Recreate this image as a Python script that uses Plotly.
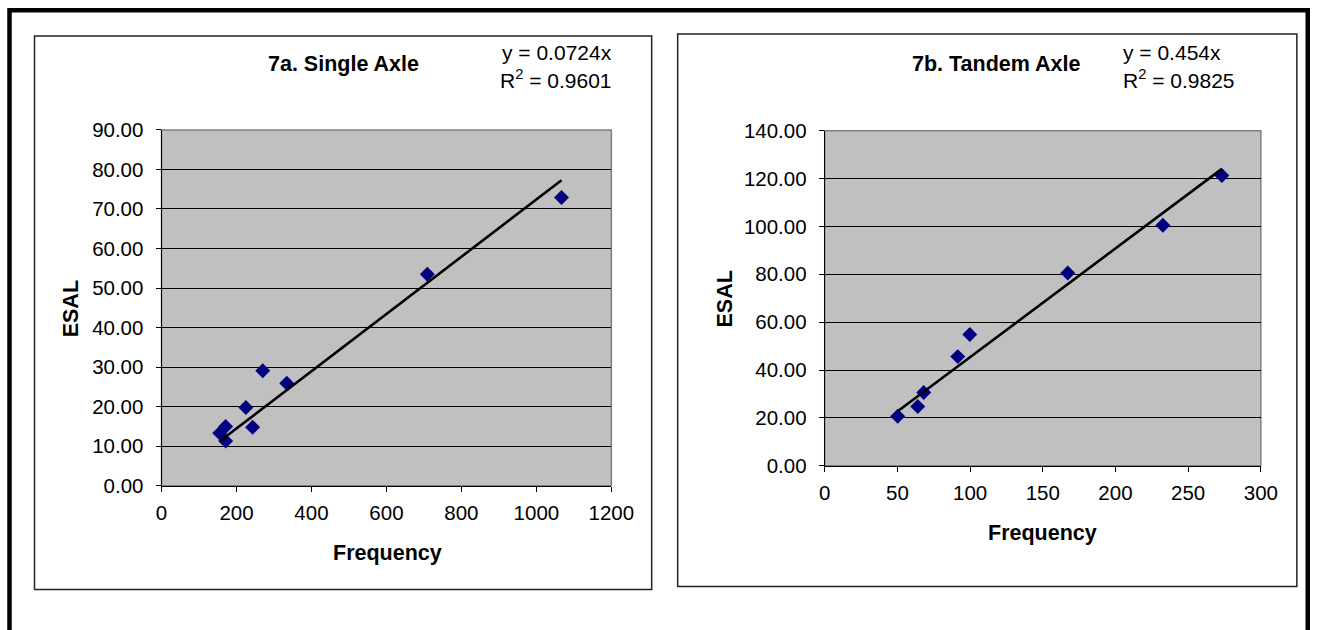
import plotly.graph_objects as go

W, H = 1334, 630

# ---- data ----
single_freq = [155, 171, 171, 225, 243, 270, 334, 709, 1067]
single_esal = [13.3, 15.0, 11.3, 19.8, 14.8, 29.1, 25.9, 53.5, 72.9]
single_slope = 0.0724
single_r2 = 0.9601

tandem_freq = [50.2, 64.0, 68.1, 91.5, 99.8, 167.2, 232.6, 273.2]
tandem_esal = [20.7, 24.8, 30.6, 45.6, 54.8, 80.5, 100.5, 121.3]
tandem_slope = 0.454
tandem_r2 = 0.9825

single_xticks = [0, 200, 400, 600, 800, 1000, 1200]
single_yticks = [0, 10, 20, 30, 40, 50, 60, 70, 80, 90]
tandem_xticks = [0, 50, 100, 150, 200, 250, 300]
tandem_yticks = [0, 20, 40, 60, 80, 100, 120, 140]

titles = ["7a. Single Axle", "7b. Tandem Axle"]
x_title = "Frequency"
y_title = "ESAL"

FONT = "Liberation Sans, Arial, sans-serif"

# mapping between target window pixels and figure pixels (calibrated)
AX, BX = 5.5, 0.978
AY, BY = 9.8, 0.968


def px(x):
    return ((x - AX) / BX) / W


def py(y):
    return 1 - ((y - AY) / BY) / H


fig = go.Figure()

# scatter points
fig.add_trace(go.Scatter(x=single_freq, y=single_esal, mode="markers",
                         marker=dict(symbol="diamond", size=11.5, color="#000080"),
                         xaxis="x", yaxis="y", showlegend=False, hoverinfo="skip"))
fig.add_trace(go.Scatter(x=tandem_freq, y=tandem_esal, mode="markers",
                         marker=dict(symbol="diamond", size=11.5, color="#000080"),
                         xaxis="x2", yaxis="y2", showlegend=False, hoverinfo="skip"))

# trend lines through the origin, spanning the data range
sx = [min(single_freq), max(single_freq)]
fig.add_trace(go.Scatter(x=sx, y=[single_slope * v for v in sx], mode="lines",
                         line=dict(color="black", width=2.6),
                         xaxis="x", yaxis="y", showlegend=False, hoverinfo="skip"))
tx = [min(tandem_freq), max(tandem_freq)]
fig.add_trace(go.Scatter(x=tx, y=[tandem_slope * v for v in tx], mode="lines",
                         line=dict(color="black", width=2.6),
                         xaxis="x2", yaxis="y2", showlegend=False, hoverinfo="skip"))

tickfont = dict(family=FONT, size=20.5, color="black")


def xaxis(domain, rng, tickvals, anchor):
    return dict(domain=domain, range=rng, tickvals=tickvals,
                ticktext=[str(v) for v in tickvals],
                ticks="outside", ticklen=5, tickcolor="black", tickwidth=1,
                showline=True, linecolor="black", linewidth=1,
                showgrid=False, zeroline=False, tickfont=tickfont,
                ticklabelstandoff=4, anchor=anchor, fixedrange=True)


def yaxis(domain, rng, tickvals, anchor):
    return dict(domain=domain, range=rng, tickvals=tickvals,
                ticktext=["%.2f" % v for v in tickvals],
                ticks="outside", ticklen=5, tickcolor="black", tickwidth=1,
                showline=True, linecolor="black", linewidth=1,
                showgrid=True, gridcolor="black", gridwidth=1,
                zeroline=False, tickfont=tickfont,
                ticklabelstandoff=8, anchor=anchor, fixedrange=True)


layout = dict(
    autosize=True,
    margin=dict(l=0, r=0, t=0, b=0),
    paper_bgcolor="white", plot_bgcolor="#C0C0C0",
    showlegend=False,
    xaxis=xaxis([px(161), px(610.7)], [0, 1200], single_xticks, "y"),
    yaxis=yaxis([py(485.7), py(128.3)], [0, 90], single_yticks, "x"),
    xaxis2=xaxis([px(824), px(1260)], [0, 300], tandem_xticks, "y2"),
    yaxis2=yaxis([py(465.7), py(129)], [0, 140], tandem_yticks, "x2"),
)
fig.update_layout(**layout)

shapes = [
    # outer thick frame (right side kept just inside the drawable area)
    dict(type="rect", xref="paper", yref="paper", x0=px(9), x1=0.9975,
         y0=py(720), y1=py(8), line=dict(color="black", width=4.5)),
    # chart boxes
    dict(type="rect", xref="paper", yref="paper", x0=px(34), x1=px(651),
         y0=py(590), y1=py(34), line=dict(color="#222222", width=1.5)),
    dict(type="rect", xref="paper", yref="paper", x0=px(677), x1=px(1296),
         y0=py(587), y1=py(32), line=dict(color="#222222", width=1.5)),
    # plot-area borders
    dict(type="rect", xref="x domain", yref="y domain", x0=0, x1=1, y0=0, y1=1,
         line=dict(color="#808080", width=1.5), layer="below"),
    dict(type="rect", xref="x2 domain", yref="y2 domain", x0=0, x1=1, y0=0, y1=1,
         line=dict(color="#808080", width=1.5), layer="below"),
]
fig.update_layout(shapes=shapes)

ann = []


def text(x, y, s, size=21.5, bold=False, angle=0):
    ann.append(dict(x=px(x), y=py(y), xref="paper", yref="paper", text=s,
                    showarrow=False, xanchor="center", yanchor="middle",
                    textangle=angle,
                    font=dict(family=FONT, size=size, color="black",
                              weight="bold" if bold else "normal")))


text(343, 62, titles[0], bold=True)
text(996, 62, titles[1], bold=True)
text(556, 50, "y = %sx" % single_slope, size=21)
text(555, 77, "R<sup>2</sup> = %s" % single_r2, size=21)
text(1171, 50, "y = %sx" % tandem_slope, size=21)
text(1178, 77, "R<sup>2</sup> = %s" % tandem_r2, size=21)
text(387, 553, x_title, bold=True)
text(1042, 533, x_title, bold=True)
text(70, 308, y_title, bold=True, angle=-90)
text(724, 298, y_title, bold=True, angle=-90)
fig.update_layout(annotations=ann)

# the figure fills the browser window exactly (no page margin, no scrollbars)
fig.write_html(
    "out.html",
    config={"displayModeBar": False, "responsive": True},
    default_width="100vw",
    default_height="100vh",
    post_script="document.body.style.margin='0';"
                "document.documentElement.style.overflow='hidden';"
                "document.body.style.overflow='hidden';",
)
